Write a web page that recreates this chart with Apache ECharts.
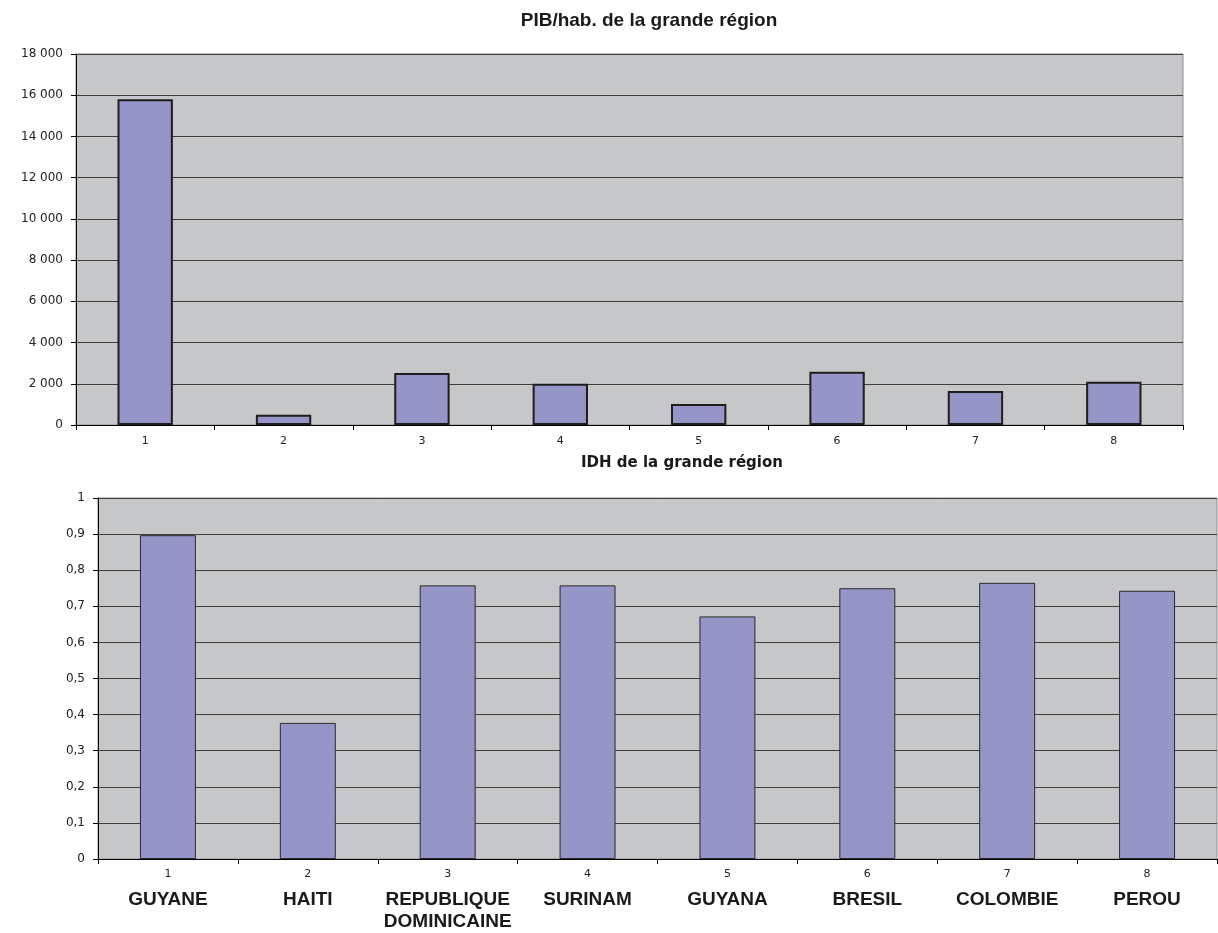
<!DOCTYPE html>
<html><head><meta charset="utf-8">
<script src="https://cdn.jsdelivr.net/npm/echarts@6/dist/echarts.min.js"></script>
<style>html,body{margin:0;padding:0;background:#fff}#c{width:1218px;height:933px}</style>
</head><body><div id="c"></div>
<script>
var categories = ['1','2','3','4','5','6','7','8'];
var pibValues = [15800, 500, 2520, 2000, 1020, 2580, 1650, 2100];
var idhValues = [0.897, 0.377, 0.758, 0.758, 0.672, 0.75, 0.765, 0.743];
var countries = ['GUYANE', 'HAITI', 'REPUBLIQUE\nDOMINICAINE', 'SURINAM', 'GUYANA', 'BRESIL', 'COLOMBIE', 'PEROU'];
var titleTop = 'PIB/hab. de la grande région';
var titleBottom = 'IDH de la grande région';

var chart = echarts.init(document.getElementById('c'), null, {renderer: 'canvas'});
var numFont = 'DejaVu Sans';
function thousands(v){ return String(v).replace(/\B(?=(\d{3})+(?!\d))/g, ' '); }
function decComma(v){ return String(Math.round(v*10)/10).replace('.', ','); }

var gridCommon = {show: true, backgroundColor: '#c6c7c9', borderColor: '#8f8f92', borderWidth: 1};

chart.setOption({
  animation: false,
  title: [
    {text: titleTop, left: 644, top: 6, textAlign: 'center',
     textStyle: {fontFamily: 'Liberation Sans, Arial', fontWeight: 'bold', fontSize: 19, color: '#1a1a1a'}},
    {text: titleBottom, left: 677, top: 451, textAlign: 'center',
     textStyle: {fontFamily: numFont, fontWeight: 'bold', fontSize: 15, color: '#1a1a1a'}}
  ],
  grid: [
    Object.assign({left: 76, right: 35, top: 54, bottom: 508}, gridCommon),
    Object.assign({left: 98, right: 1, top: 498, bottom: 74}, gridCommon)
  ],
  xAxis: [
    {type: 'category', gridIndex: 0, data: categories,
     axisLine: {lineStyle: {color: '#000', width: 1}},
     axisTick: {show: true, length: 5, lineStyle: {color: '#000'}},
     axisLabel: {margin: 11, fontFamily: numFont, fontSize: 11, color: '#222'}},
    {type: 'category', gridIndex: 1, data: categories,
     axisLine: {lineStyle: {color: '#000', width: 1}},
     axisTick: {show: true, length: 5, lineStyle: {color: '#000'}},
     axisLabel: {margin: 6, interval: 0,
       formatter: function(v, i){
         var lines = countries[i].split('\n').map(function(s){ return '{c|' + s + '}'; }).join('\n');
         return '{n|' + v + '}\n{s| }\n' + lines;
       },
       rich: {
         n: {fontFamily: numFont, fontSize: 11, lineHeight: 18, color: '#222'},
         s: {fontSize: 1, lineHeight: 6},
         c: {fontFamily: 'Liberation Sans, Arial', fontWeight: 'bold', fontSize: 19, lineHeight: 22, color: '#1a1a1a'}
       }}}
  ],
  yAxis: [
    {type: 'value', gridIndex: 0, min: 0, max: 18000, interval: 2000,
     axisLine: {show: true, lineStyle: {color: '#000', width: 1}},
     axisTick: {show: true, length: 5, lineStyle: {color: '#000'}},
     axisLabel: {margin: 13, fontFamily: numFont, fontSize: 12, color: '#222', formatter: thousands},
     splitLine: {show: true, lineStyle: {color: '#3e3e3e', width: 1.2}}},
    {type: 'value', gridIndex: 1, min: 0, max: 1, interval: 0.1,
     axisLine: {show: true, lineStyle: {color: '#000', width: 1}},
     axisTick: {show: true, length: 5, lineStyle: {color: '#000'}},
     axisLabel: {margin: 13, fontFamily: numFont, fontSize: 12, color: '#222', formatter: decComma},
     splitLine: {show: true, lineStyle: {color: '#3e3e3e', width: 1.2}}}
  ],
  series: [
    {type: 'bar', xAxisIndex: 0, yAxisIndex: 0, data: pibValues, barWidth: '40%',
     itemStyle: {color: '#9595c8', borderColor: '#1e1e1e', borderWidth: 2}},
    {type: 'bar', xAxisIndex: 1, yAxisIndex: 1, data: idhValues, barWidth: '40%',
     itemStyle: {color: '#9595c8', borderColor: '#2a2a2a', borderWidth: 1}}
  ]
});
</script></body></html>
